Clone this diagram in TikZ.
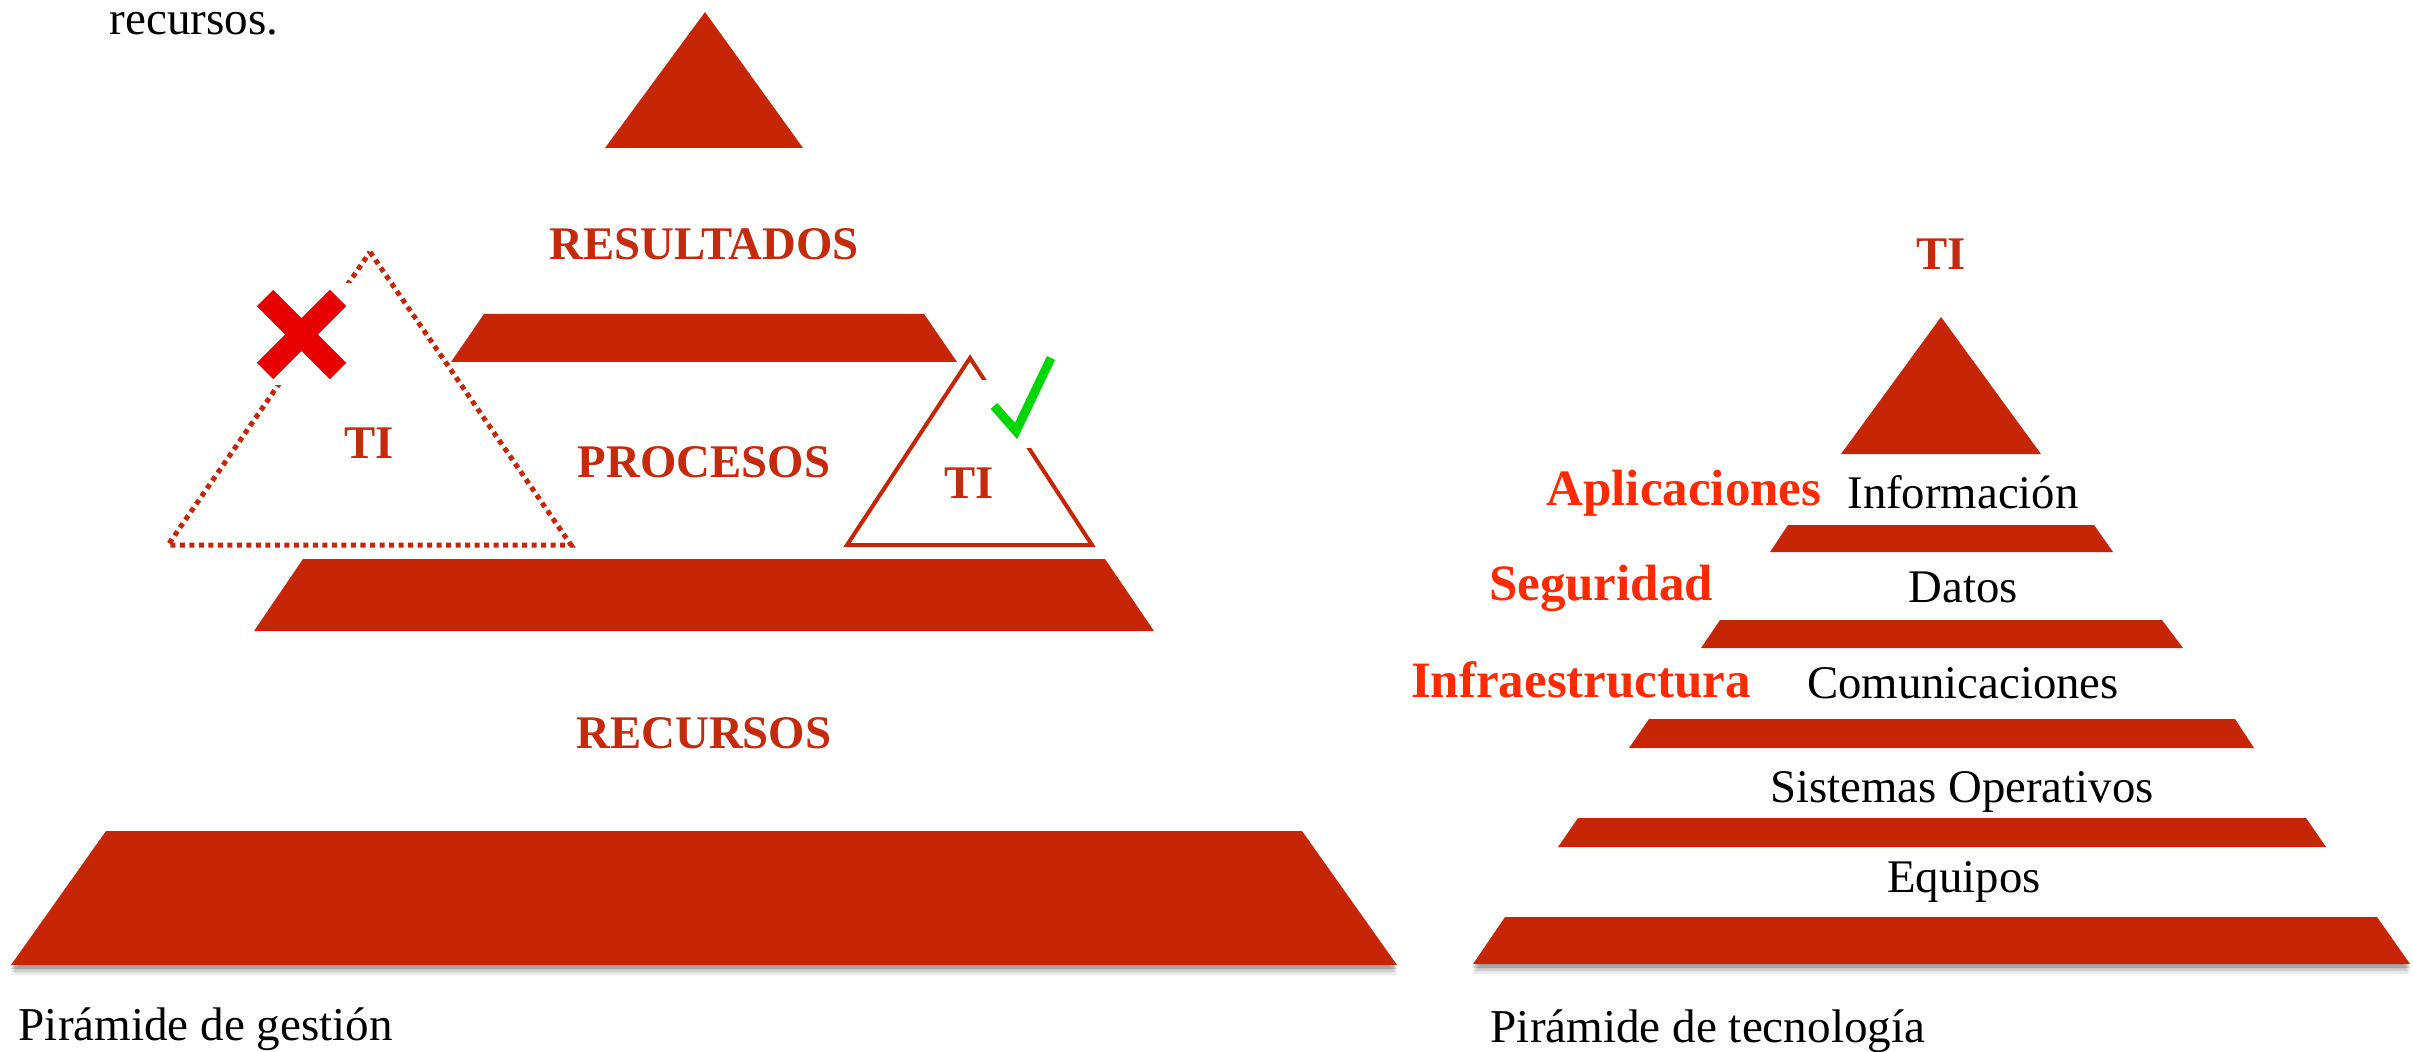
\documentclass[tikz,border=0pt]{standalone}
\usepackage{fontspec}
\setmainfont{Liberation Serif}
\usepackage{xcolor}
\usetikzlibrary{shadows}

\definecolor{piramide}{HTML}{C62506}
\definecolor{rotulo}{HTML}{C42A0C}
\definecolor{vivo}{HTML}{FF2A00}
\definecolor{cruz}{HTML}{E60000}
\definecolor{visto}{HTML}{00D600}

\begin{document}
\begin{tikzpicture}[x=0.01cm, y=-0.01cm, inner sep=0pt,
    capa/.style={fill=piramide},
    capabase/.style={fill=piramide,
      drop shadow={shadow xshift=0cm, shadow yshift=-0.1cm, opacity=0.08, fill=black},
      drop shadow={shadow xshift=0cm, shadow yshift=-0.07cm, opacity=0.12, fill=black},
      drop shadow={shadow xshift=0cm, shadow yshift=-0.04cm, opacity=0.2, fill=black}},
    rotulo/.style={anchor=base, text=rotulo, font=\bfseries\fontsize{13.3}{15}\selectfont},
    lado/.style={anchor=base, text=vivo, font=\bfseries\fontsize{14.5}{17}\selectfont},
    nivel/.style={anchor=base, font=\fontsize{13.3}{15}\selectfont},
    pie/.style={anchor=base west, font=\fontsize{13.4}{15}\selectfont}]

      \useasboundingbox (0,0) rectangle (2413,1052);

      % piramide de gestion
      \fill[capa] (705,12) -- (803,148) -- (605,148) -- cycle;
      \fill[capa] (484,314) -- (924,314) -- (957,362) -- (451,362) -- cycle;
      \fill[capa] (303,559) -- (1105,559) -- (1154,631) -- (254,631) -- cycle;
      \fill[capabase] (106,831) -- (1302,831) -- (1397,965) -- (11,965) -- cycle;

      \node[rotulo] (resultados) at (704,260) {RESULTADOS};
      \node[rotulo] (procesos) at (704,477) {PROCESOS};
      \node[rotulo] (recursos) at (704,748) {RECURSOS};

      % TI fuera de la piramide
      \draw[piramide, line width=0.05cm, dash pattern=on 0.05cm off 0.045cm] (370,252) -- (571,545) -- (168,545) -- cycle;
      \fill[white] (250,283) rectangle (358,385);
      \draw[cruz, line width=0.23cm] (265,298) -- (338,371) (338,298) -- (265,371);
      \node[rotulo] (tiFuera) at (369,458) {TI};

      % TI dentro de la piramide
      \draw[piramide, line width=0.04cm] (970,358) -- (1092,545) -- (847,545) -- cycle;
      \fill[white] (982,380) rectangle (1062,448);
      \draw[visto, line width=0.09cm, line join=miter] (994,406) -- (1016,431) -- (1051,358);
      \node[rotulo] (tiDentro) at (969,498) {TI};

      % piramide de tecnologia
      \fill[capa] (1941,317) -- (2041,454) -- (1841,454) -- cycle;
      \fill[capa] (1788,525) -- (2094,525) -- (2113,552) -- (1770,552) -- cycle;
      \fill[capa] (1720,620) -- (2162,620) -- (2183,648) -- (1701,648) -- cycle;
      \fill[capa] (1649,719) -- (2235,719) -- (2254,748) -- (1629,748) -- cycle;
      \fill[capa] (1578,818) -- (2306,818) -- (2326,847) -- (1558,847) -- cycle;
      \fill[capabase] (1505,917) -- (2377,917) -- (2410,964) -- (1473,964) -- cycle;

      \node[rotulo] (tiTec) at (1941,270) {TI};
      \node[nivel] (informacion) at (1963,508) {Información};
      \node[nivel] (datos) at (1963,602) {Datos};
      \node[nivel] (comunicaciones) at (1963,698) {Comunicaciones};
      \node[nivel] (sistemas) at (1962,802) {Sistemas Operativos};
      \node[nivel] (equipos) at (1964,892) {Equipos};

      \node[lado] (aplicaciones) at (1684,505) {Aplicaciones};
      \node[lado] (seguridad) at (1601,600) {Seguridad};
      \node[lado] (infraestructura) at (1581,697) {Infraestructura};

      % textos sueltos
      \node[pie] (texto) at (109,35) {recursos.};
      \node[pie] (pieGestion) at (18,1040) {Pirámide de gestión};
      \node[pie] (pieTecnologia) at (1490,1042) {Pirámide de tecnología};
    \end{tikzpicture}
\end{document}
